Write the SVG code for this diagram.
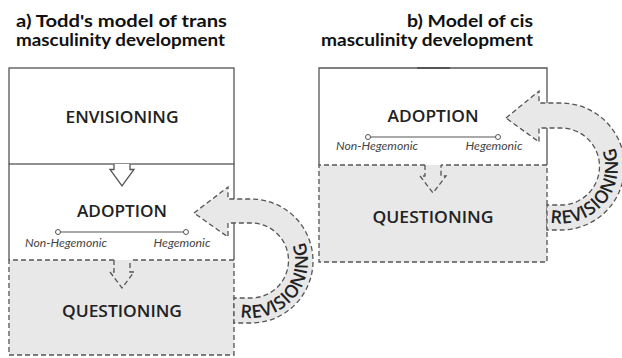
<svg xmlns="http://www.w3.org/2000/svg" width="622" height="358" viewBox="0 0 622 358">
<style>
.title{font-family:Lato,"Liberation Sans",sans-serif;font-weight:700;font-size:17px;fill:#111}
.lbl{font-family:"Open Sans","Liberation Sans",sans-serif;font-weight:600;font-size:17px;fill:#222;text-anchor:middle}
.sub{font-family:Lato,"Liberation Sans",sans-serif;font-style:italic;font-weight:400;font-size:12px;fill:#444;text-anchor:middle}
.rev{font-family:"Open Sans","Liberation Sans",sans-serif;font-weight:600;font-size:18px;fill:#222;letter-spacing:0.5px}
.solid{fill:none;stroke:#555;stroke-width:1.3}
.dash{fill:none;stroke:#555;stroke-width:1.3;stroke-dasharray:5 3}
.gray{fill:#e8e8e8}
.scale{stroke:#555;stroke-width:1.2}
.dot{fill:#fff;stroke:#555;stroke-width:1}
</style>
<defs>
<path id="arcA" d="M 226.9,312.7 A 57 57 0 1 0 251,204"/>
<path id="arcB" d="M 536.9,218.2 A 57 57 0 1 0 561,109.5"/>
</defs>

<text class="title" x="16" y="27" textLength="211" lengthAdjust="spacingAndGlyphs">a) Todd's model of trans</text>
<text class="title" x="16" y="46" textLength="209" lengthAdjust="spacingAndGlyphs">masculinity development</text>
<text class="title" x="533" y="27" text-anchor="end" textLength="126" lengthAdjust="spacingAndGlyphs">b) Model of cis</text>
<text class="title" x="533" y="46" text-anchor="end" textLength="212" lengthAdjust="spacingAndGlyphs">masculinity development</text>

<!-- Left diagram -->
<g id="a-questioning">
<rect class="gray" x="9" y="260" width="225" height="95"/>
<path class="dash" d="M 114,260 H 9 V 355 H 234 V 260 H 130"/>
<text class="lbl" x="122" y="317" textLength="120" lengthAdjust="spacingAndGlyphs">QUESTIONING</text>
</g>
<g id="a-envisioning">
<rect x="9" y="68" width="225" height="96" fill="#fff" class="solid"/>
<text class="lbl" x="122" y="123" textLength="113" lengthAdjust="spacingAndGlyphs">ENVISIONING</text>
</g>
<g id="a-adoption">
<path class="solid" d="M 9,164 V 260 M 234,164 V 260"/>
<text class="lbl" x="122" y="217" textLength="90" lengthAdjust="spacingAndGlyphs">ADOPTION</text>
<line class="scale" x1="58" y1="232" x2="186" y2="232"/>
<circle class="dot" cx="58" cy="232" r="2.5"/>
<circle class="dot" cx="186" cy="232" r="2.5"/>
<text class="sub" x="66" y="247" textLength="82" lengthAdjust="spacingAndGlyphs">Non-Hegemonic</text>
<text class="sub" x="182" y="247" textLength="57" lengthAdjust="spacingAndGlyphs">Hegemonic</text>
</g>

<!-- Right diagram -->
<g id="b-questioning">
<rect class="gray" x="319" y="165" width="228" height="97"/>
<path class="dash" d="M 425,165 H 319 V 262 H 547 V 165 H 441"/>
<text class="lbl" x="433" y="223" textLength="121" lengthAdjust="spacingAndGlyphs">QUESTIONING</text>
</g>
<g id="b-adoption">
<path class="solid" d="M 319,165 V 68 H 547 V 165"/>
<line x1="417" y1="68" x2="450" y2="68" stroke="#555" stroke-width="2.2"/>
<text class="lbl" x="433" y="122" textLength="91" lengthAdjust="spacingAndGlyphs">ADOPTION</text>
<line class="scale" x1="368" y1="137" x2="498" y2="137"/>
<circle class="dot" cx="368" cy="137" r="2.5"/>
<circle class="dot" cx="498" cy="137" r="2.5"/>
<text class="sub" x="377" y="150" textLength="82" lengthAdjust="spacingAndGlyphs">Non-Hegemonic</text>
<text class="sub" x="494" y="150" textLength="57" lengthAdjust="spacingAndGlyphs">Hegemonic</text>
</g>

<g id="connectors">
<!-- a: envisioning -> adoption -->
<path d="M 114,164 V 169.5 H 110 L 122,186 L 134,169.5 H 130 V 164" fill="#fff" stroke="#555" stroke-width="1.3"/>
<!-- a: adoption -> questioning -->
<path d="M 114,260 V 272 H 110 L 122,288 L 134,272 H 130 V 260" class="gray" stroke="#555" stroke-width="1.3" stroke-dasharray="5 3"/>
<!-- a: revisioning -->
<path d="M 194,213 L 228,187 L 228,199 L 251,199 A 62 62 0 0 1 251,323 L 234,323 L 234,298 L 251,298 A 37.5 37.5 0 0 0 251,223 L 228,223 L 228,237 Z" class="gray" stroke="#555" stroke-width="1.3" stroke-dasharray="5 3"/>
<text class="rev"><textPath href="#arcA" startOffset="14">REVISIONING</textPath></text>
<!-- b: adoption -> questioning -->
<path d="M 425,165 V 176 H 420 L 433,193 L 446,176 H 441 V 165" class="gray" stroke="#555" stroke-width="1.3" stroke-dasharray="5 3"/>
<!-- b: revisioning -->
<path d="M 506,118 L 539,91 L 539,103 L 561,103 A 63.5 63.5 0 0 1 561,230 L 547,230 L 547,205 L 561,205 A 38.5 38.5 0 0 0 561,128 L 539,128 L 539,142 Z" class="gray" stroke="#555" stroke-width="1.3" stroke-dasharray="5 3"/>
<text class="rev"><textPath href="#arcB" startOffset="14">REVISIONING</textPath></text>
</g>
</svg>
